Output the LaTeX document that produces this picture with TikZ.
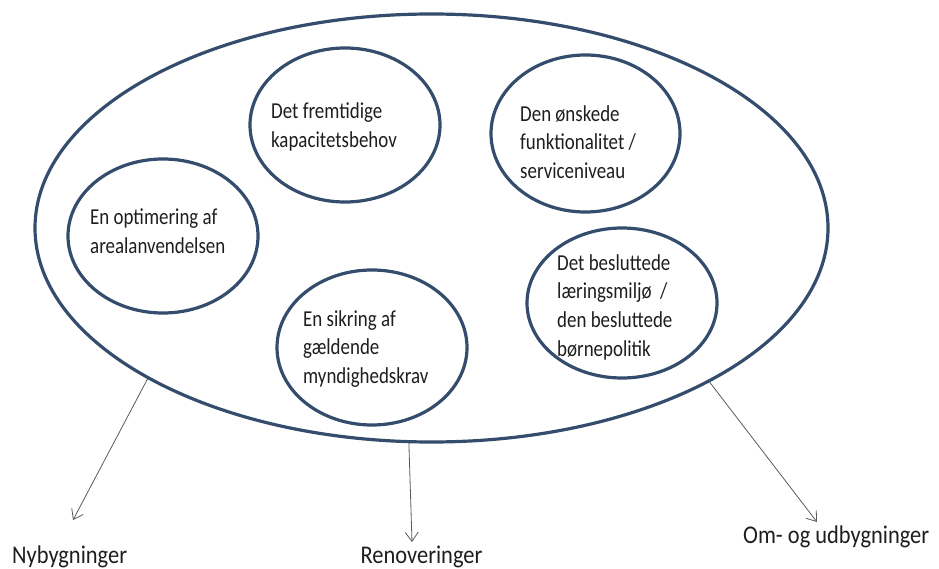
\documentclass[tikz,border=0pt]{standalone}
\usepackage{fontspec}
\setmainfont{Carlito}[FakeStretch=0.88]
\newfontfamily\ringfont{Carlito}[FakeStretch=0.83]
\usetikzlibrary{shapes.geometric,arrows.meta}
\definecolor{ringblue}{HTML}{344D6C}
\definecolor{arrowgray}{HTML}{5A5A5A}
\definecolor{textdark}{HTML}{1E1E1E}
\tikzset{
  ring/.style={draw=ringblue, line width=3.2pt, ellipse, inner sep=0pt},
  bigring/.style={ring, minimum width=793pt, minimum height=428pt},
  smallring/.style={ring, minimum width=190pt, minimum height=155pt},
  ringtext/.style={anchor=west, align=left, inner sep=0pt, text=textdark,
    font=\ringfont\fontsize{22.8}{28.7}\selectfont},
  outlabel/.style={inner sep=0pt, text=textdark, font=\fontsize{25.5}{30}\selectfont},
  outarrow/.style={draw=arrowgray, line width=0.8pt, -{Straight Barb[length=9pt,width=13pt]}}
}
\begin{document}
\begin{tikzpicture}[x=1pt,y=-1pt]
\useasboundingbox (0,0) rectangle (939,569);
\node[bigring] (big) at (431.5,228) {};
\node[smallring, minimum width=190pt, minimum height=154pt] (kap) at (345,125) {};
\node[smallring, minimum width=189pt, minimum height=157pt] (fun) at (585.5,133.5) {};
\node[smallring, minimum width=190pt, minimum height=154pt] (opt) at (163,236) {};
\node[smallring, minimum width=190pt, minimum height=155pt] (sik) at (372,347.5) {};
\node[smallring, minimum width=190pt, minimum height=150pt] (bes) at (622,303) {};

\node[ringtext] (tkap) at (271,127) {Det fremtidige\\kapacitetsbehov};
\node[ringtext] (tfun) at (520,142) {Den ønskede\\funktionalitet /\\serviceniveau};
\node[ringtext] (topt) at (90,231.5) {En optimering af\\arealanvendelsen};
\node[ringtext] (tsik) at (303,349) {En sikring af\\gældende\\myndighedskrav};
\node[ringtext] (tbes) at (557,307) {Det besluttede\\læringsmiljø\ \ /\\den besluttede\\børnepolitik};

\node[outlabel, anchor=west] (ny) at (12,557) {Nybygninger};
\node[outlabel] (ren) at (421.5,557) {Renoveringer};
\node[outlabel, anchor=west] (om) at (743,537) {Om- og udbygninger};

\coordinate (nyend) at (73,520);
\coordinate (renend) at (412,542);
\coordinate (omend) at (817,522);

\draw[outarrow] (big.208.8) -- (nyend);
\draw[outarrow] (big.264.8) -- (renend);
\draw[outarrow] (big.331.2) -- (omend);
\end{tikzpicture}
\end{document}
